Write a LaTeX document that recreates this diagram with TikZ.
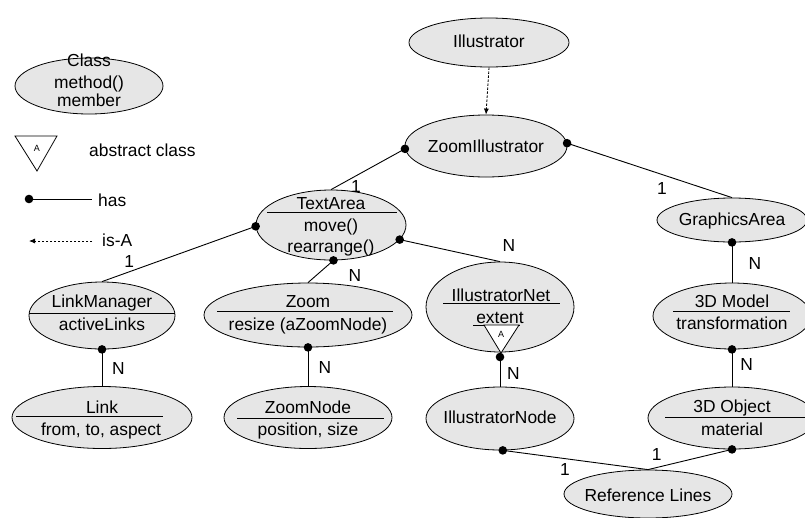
\documentclass[tikz,border=0pt]{standalone}
\usepackage{fontspec}
\setmainfont{Liberation Sans}
\usetikzlibrary{shapes.geometric,arrows.meta}
\definecolor{clsfill}{RGB}{230,230,230}
\begin{document}
\begin{tikzpicture}[x=1pt,y=-1pt,
  cls/.style={ellipse, draw=black, line width=0.8pt, fill=clsfill, inner sep=0pt},
  txt/.style={anchor=base, inner sep=0pt, font=\fontsize{17.4}{21}\selectfont},
  mult/.style={txt},
  small/.style={anchor=base, inner sep=0pt, font=\fontsize{9}{10}\selectfont},
  sep/.style={line width=0.8pt},
  hasline/.style={line width=0.9pt},
  isaline/.style={line width=0.8pt, dash pattern=on 2.5pt off 1.5pt, -{Latex[length=6pt,width=5pt]}},
  abstri/.style={line width=0.8pt, fill=white},
]
\fill[white] (0,0) rectangle (805,517);
\useasboundingbox (0,0) rectangle (805,517);
\newcommand{\hasdot}[1]{\fill #1 circle[radius=4.3pt];}

% ---------- legend ----------
\node[cls, minimum width=148pt, minimum height=56pt] (lgc) at (89,86) {};
\node[txt] (lgc-a) at (89,66.7) {Class};
\node[txt] (lgc-b) at (89,88.3) {method()};
\node[txt] (lgc-c) at (89,106) {member};

\draw[abstri] (15,136) -- (57,136) -- (37,171) -- cycle;
\node[small] (lga) at (37,151.5) {A};
\node[txt, anchor=base west] (lgabs) at (89,156.7) {abstract class};

\coordinate (lghas-a) at (29,199);
\coordinate (lghas-b) at (92,199);
\draw[hasline] (lghas-a) -- (lghas-b);
\hasdot{(lghas-a)}
\node[txt, anchor=base west] (lghas) at (98,206) {has};

\coordinate (lgisa-a) at (92,241);
\coordinate (lgisa-b) at (29,241);
\draw[isaline] (lgisa-a) -- (lgisa-b);
\node[txt, anchor=base west] (lgisa) at (102,246.5) {is-A};

% ---------- classes ----------
\node[cls, minimum width=160pt, minimum height=49pt] (il) at (489,42.5) {};
\node[txt] at (489,47.5) {Illustrator};

\node[cls, minimum width=162pt, minimum height=62pt] (zi) at (486,146) {};
\node[txt] at (486,152.3) {ZoomIllustrator};

\node[cls, minimum width=150pt, minimum height=70pt] (ta) at (331,225) {};
\node[txt] at (331,209.5) {TextArea};
\draw[sep] (267,212) -- (397,212);
\node[txt] at (331,231.5) {move()};
\node[txt] at (331,252) {rearrange()};

\node[cls, minimum width=150pt, minimum height=44pt] (ga) at (732,220) {};
\node[txt] at (732,225.3) {GraphicsArea};

\node[cls, minimum width=146pt, minimum height=67pt] (lm) at (102,315.5) {};
\node[txt] at (102,307.7) {LinkManager};
\draw[sep] (29,313.3) -- (175,313.3);
\node[txt] at (102,330) {activeLinks};

\node[cls, minimum width=208pt, minimum height=64pt] (zm) at (308,315) {};
\node[txt] at (308,307.7) {Zoom};
\draw[sep] (217,311.7) -- (393,311.7);
\node[txt] at (308,330.5) {resize (aZoomNode)};

\node[cls, minimum width=148pt, minimum height=90pt] (inet) at (500,307) {};
\node[txt] at (501,301.5) {IllustratorNet};
\draw[sep] (443,303.5) -- (560,303.5);
\node[txt] at (500,323.3) {extent};
\draw[sep] (473,325) -- (520,325);
\draw[abstri] (484,325) -- (519,325) -- (501,353) -- cycle;
\node[small] (inet-a) at (501,337) {A};
\coordinate (inet-tip) at (500,357);

\node[cls, minimum width=158pt, minimum height=66pt] (m3) at (732,316) {};
\node[txt] at (732,307.7) {3D Model};
\draw[sep] (673,311.7) -- (790,311.7);
\node[txt] at (732,329.3) {transformation};

\node[cls, minimum width=180pt, minimum height=62pt] (lk) at (102,417.5) {};
\node[txt] at (102,413.3) {Link};
\draw[sep] (16,416) -- (163,416);
\node[txt] at (101,435) {from, to, aspect};

\node[cls, minimum width=168pt, minimum height=62pt] (zn) at (308,417.5) {};
\node[txt] at (308,413.3) {ZoomNode};
\draw[sep] (237,418.3) -- (384,418.3);
\node[txt] at (308,435) {position, size};

\node[cls, minimum width=148pt, minimum height=63pt] (inode) at (500,418.5) {};
\node[txt] at (500,423.3) {IllustratorNode};

\node[cls, minimum width=168pt, minimum height=62pt] (o3) at (732,418) {};
\node[txt] at (732,412.7) {3D Object};
\draw[sep] (665,417.7) -- (806,417.7);
\node[txt] at (732,435) {material};

\node[cls, minimum width=168pt, minimum height=48pt] (rl) at (648,494) {};
\node[txt] at (648,501) {Reference Lines};

% ---------- is-A ----------
\draw[isaline] (il.south) -- (zi.north);

% ---------- has ----------
\draw[hasline] (zi.182) -- (ta.north);       \hasdot{(zi.182)}
\draw[hasline] (zi.2) -- (ga.north);         \hasdot{(zi.2)}
\draw[hasline] (ta.181) -- (lm.north);       \hasdot{(ta.181)}
\draw[hasline] (ta.-86) -- (zm.north);       \hasdot{(ta.-86)}
\draw[hasline] (ta.-12) -- (inet.north);     \hasdot{(ta.-12)}
\draw[hasline] (ga.south) -- (m3.north);     \hasdot{(ga.south)}
\draw[hasline] (lm.south) -- (lk.north);     \hasdot{(lm.south)}
\draw[hasline] (zm.south) -- (zn.north);     \hasdot{(zm.south)}
\draw[hasline] (inet-tip) -- (inode.north);  \hasdot{(inet-tip)}
\draw[hasline] (m3.south) -- (o3.north);     \hasdot{(m3.south)}
\draw[hasline] (inode.-85) -- (rl.north);    \hasdot{(inode.-85)}
\draw[hasline] (o3.south) -- (rl.north);     \hasdot{(o3.south)}

% ---------- multiplicities ----------
\node[mult] at (356,192) {1};
\node[mult] at (662,194.3) {1};
\node[mult] at (129.3,267.7) {1};
\node[mult] at (355,281.7) {N};
\node[mult] at (509,251.7) {N};
\node[mult] at (755,269) {N};
\node[mult] at (118.3,374) {N};
\node[mult] at (325,373.3) {N};
\node[mult] at (513.3,379) {N};
\node[mult] at (746.7,370) {N};
\node[mult] at (565,475) {1};
\node[mult] at (656.7,460) {1};
\end{tikzpicture}
\end{document}
